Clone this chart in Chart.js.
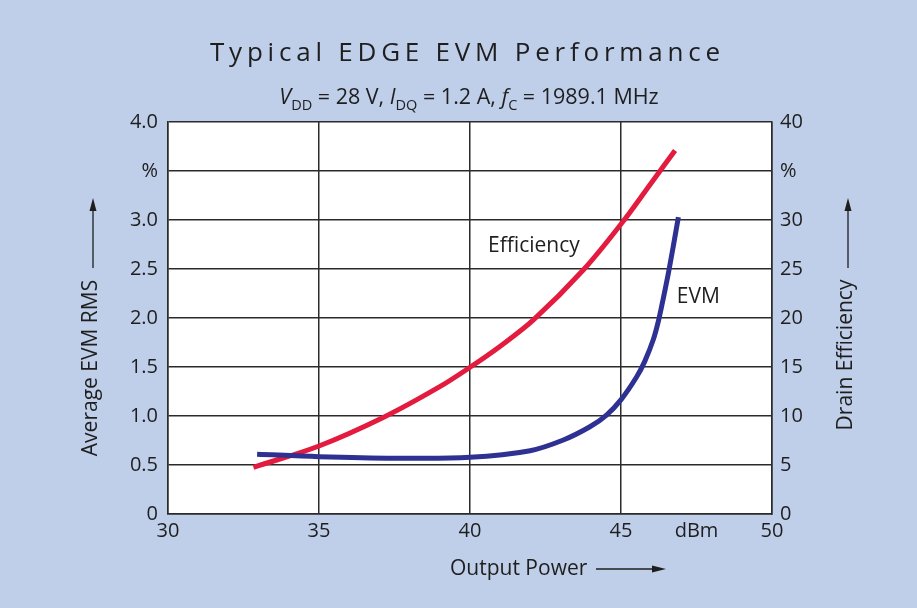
<!DOCTYPE html>
<html>
<head>
<meta charset="utf-8">
<script src="https://cdn.jsdelivr.net/npm/chart.js@4"></script>
<style>
  html, body { margin: 0; padding: 0; background: #bfcee9; }
  canvas { display: block; }
</style>
</head>
<body>
<canvas id="evmChart" width="917" height="608"></canvas>
<script>
// Data
const evmPower = [32.95, 35, 37.5, 40, 41.99, 43.09, 43.97, 44.52, 45.01, 45.52, 45.79, 46.07, 46.24, 46.4, 46.57, 46.73, 46.9];
const evmValues = [0.61, 0.585, 0.57, 0.578, 0.646, 0.755, 0.89, 1.01, 1.17, 1.4, 1.56, 1.78, 1.97, 2.2, 2.46, 2.73, 3.03];

const effPower = [32.83, 35, 37.16, 39, 40, 40.99, 42.1, 43.75, 45.02, 45.96, 46.79];
const effValues = [4.77, 6.94, 9.9, 12.99, 14.97, 17.1, 19.8, 24.9, 29.66, 33.6, 37.1];

// Tick labels
const xTickValues = [30, 35, 40, 45, 47.5, 50];
const xTickLabels = ["30", "35", "40", "45", "dBm", "50"];
const leftTickLabels = ["0", "0.5", "1.0", "1.5", "2.0", "2.5", "3.0", "%", "4.0"];
const rightTickLabels = ["0", "5", "10", "15", "20", "25", "30", "%", "40"];

// Curve labels (x in dBm, y on left axis)
const curveLabels = [
  { text: "Efficiency", x: 40.6, y: 2.73 },
  { text: "EVM", x: 46.85, y: 2.21 },
];

const FONT = "'Open Sans', sans-serif";
const TEXT = "#1e1e1e";
const GRID = "#2b2b2b";

function toPoints(xs, ys) {
  return xs.map((x, i) => ({ x: x, y: ys[i] }));
}

// Draws background, title, subtitle, axis titles with arrows and curve labels
const decorPlugin = {
  id: "decor",
  beforeDraw(chart) {
    const ctx = chart.ctx;
    const a = chart.chartArea;
    ctx.save();
    ctx.fillStyle = "#bfcee9";
    ctx.fillRect(0, 0, chart.width, chart.height);
    ctx.fillStyle = "#ffffff";
    ctx.fillRect(a.left, a.top, a.right - a.left, a.bottom - a.top);
    ctx.restore();
  },
  afterDatasetsDraw(chart) {
    const ctx = chart.ctx;
    const xs = chart.scales.x;
    const ys = chart.scales.y;
    ctx.save();
    ctx.fillStyle = TEXT;
    ctx.font = "21px " + FONT;
    ctx.textBaseline = "middle";
    ctx.textAlign = "left";
    curveLabels.forEach((l) => {
      ctx.fillText(l.text, xs.getPixelForValue(l.x), ys.getPixelForValue(l.y));
    });
    ctx.restore();
  },
  afterDraw(chart) {
    const ctx = chart.ctx;
    ctx.save();
    ctx.fillStyle = TEXT;
    ctx.strokeStyle = TEXT;

    // Title, spread out
    const title = "Typical EDGE EVM Performance";
    ctx.font = "26px " + FONT;
    ctx.textBaseline = "middle";
    ctx.textAlign = "left";
    const plainW = ctx.measureText(title).width;
    const spacing = (510 - plainW) / (title.length - 1);
    ctx.letterSpacing = spacing + "px";
    ctx.fillText(title, 210, 54);
    ctx.letterSpacing = "0px";

    // Subtitle with italics and subscripts
    const parts = [
      ["V", "i"], ["DD", "s"], [" = 28 V, ", "n"],
      ["I", "i"], ["DQ", "s"], [" = 1.2 A, ", "n"],
      ["f", "i"], ["C", "s"], [" = 1989.1 MHz", "n"],
    ];
    const fontFor = (k) =>
      k === "i" ? "italic 21.5px " + FONT : k === "s" ? "14.5px " + FONT : "21.5px " + FONT;
    let total = 0;
    parts.forEach(([t, k]) => {
      ctx.font = fontFor(k);
      total += ctx.measureText(t).width;
    });
    let px = 469 - total / 2;
    ctx.textBaseline = "alphabetic";
    parts.forEach(([t, k]) => {
      ctx.font = fontFor(k);
      ctx.fillText(t, px, k === "s" ? 110 : 104);
      px += ctx.measureText(t).width;
    });

    // Axis titles with arrows
    ctx.font = "21px " + FONT;
    ctx.lineWidth = 1.3;
    const arrowUp = (x, y0, y1) => {
      ctx.beginPath();
      ctx.moveTo(x, y0);
      ctx.lineTo(x, y1 + 10);
      ctx.stroke();
      ctx.beginPath();
      ctx.moveTo(x, y1);
      ctx.lineTo(x - 3.5, y1 + 13);
      ctx.lineTo(x + 3.5, y1 + 13);
      ctx.closePath();
      ctx.fill();
    };

    ctx.save();
    ctx.translate(91, 368);
    ctx.rotate(-Math.PI / 2);
    ctx.textAlign = "center";
    ctx.textBaseline = "middle";
    ctx.fillText("Average EVM RMS", 0, 0);
    ctx.restore();
    arrowUp(93, 268, 198);

    ctx.save();
    ctx.translate(846, 355);
    ctx.rotate(-Math.PI / 2);
    ctx.textAlign = "center";
    ctx.textBaseline = "middle";
    ctx.fillText("Drain Efficiency", 0, 0);
    ctx.restore();
    arrowUp(848, 268, 198);

    ctx.textAlign = "left";
    ctx.textBaseline = "middle";
    ctx.fillText("Output Power", 450, 569);
    ctx.beginPath();
    ctx.moveTo(596, 569);
    ctx.lineTo(655, 569);
    ctx.stroke();
    ctx.beginPath();
    ctx.moveTo(666, 569);
    ctx.lineTo(652, 565.5);
    ctx.lineTo(652, 572.5);
    ctx.closePath();
    ctx.fill();

    ctx.restore();
  },
};

const ctx = document.getElementById("evmChart").getContext("2d");

const evmChart = new Chart(ctx, {
  type: "line",
  data: {
    datasets: [
      {
        label: "EVM",
        data: toPoints(evmPower, evmValues),
        yAxisID: "y",
        borderColor: "#2e3192",
        borderWidth: 5,
        pointRadius: 0,
        tension: 0.35,
        borderCapStyle: "butt",
      },
      {
        label: "Efficiency",
        data: toPoints(effPower, effValues),
        yAxisID: "y1",
        borderColor: "#e31b3f",
        borderWidth: 5,
        pointRadius: 0,
        tension: 0.35,
        borderCapStyle: "butt",
      },
    ],
  },
  options: {
    responsive: false,
    animation: false,
    devicePixelRatio: 1,
    layout: { padding: { top: 122, left: 0, right: 0, bottom: 0 } },
    plugins: {
      legend: { display: false },
      tooltip: { enabled: false },
    },
    scales: {
      x: {
        type: "linear",
        min: 30,
        max: 50,
        afterBuildTicks: (scale) => {
          scale.ticks = xTickValues.map((v) => ({ value: v }));
        },
        afterFit: (scale) => {
          scale.height = 94;
        },
        ticks: {
          autoSkip: false,
          maxRotation: 0,
          padding: 5,
          color: TEXT,
          font: { family: FONT, size: 20 },
          callback: (value, index) => xTickLabels[index],
        },
        grid: {
          drawTicks: false,
          lineWidth: 1.5,
          color: (c) => (c.tick && c.tick.value === 47.5 ? "rgba(0,0,0,0)" : GRID),
        },
        border: { display: true, color: GRID, width: 1.5 },
      },
      y: {
        position: "left",
        min: 0,
        max: 4,
        afterFit: (scale) => {
          scale.width = 168;
        },
        ticks: {
          stepSize: 0.5,
          padding: 10,
          color: TEXT,
          font: { family: FONT, size: 20 },
          callback: (value, index) => leftTickLabels[index],
        },
        grid: { drawTicks: false, lineWidth: 1.5, color: GRID },
        border: { display: true, color: GRID, width: 1.5 },
      },
      y1: {
        position: "right",
        min: 0,
        max: 40,
        afterFit: (scale) => {
          scale.width = 145;
        },
        ticks: {
          stepSize: 5,
          padding: 8,
          color: TEXT,
          font: { family: FONT, size: 20 },
          callback: (value, index) => rightTickLabels[index],
        },
        grid: { drawOnChartArea: false, drawTicks: false },
        border: { display: true, color: GRID, width: 1.5 },
      },
    },
  },
  plugins: [decorPlugin],
});
</script>
</body>
</html>
